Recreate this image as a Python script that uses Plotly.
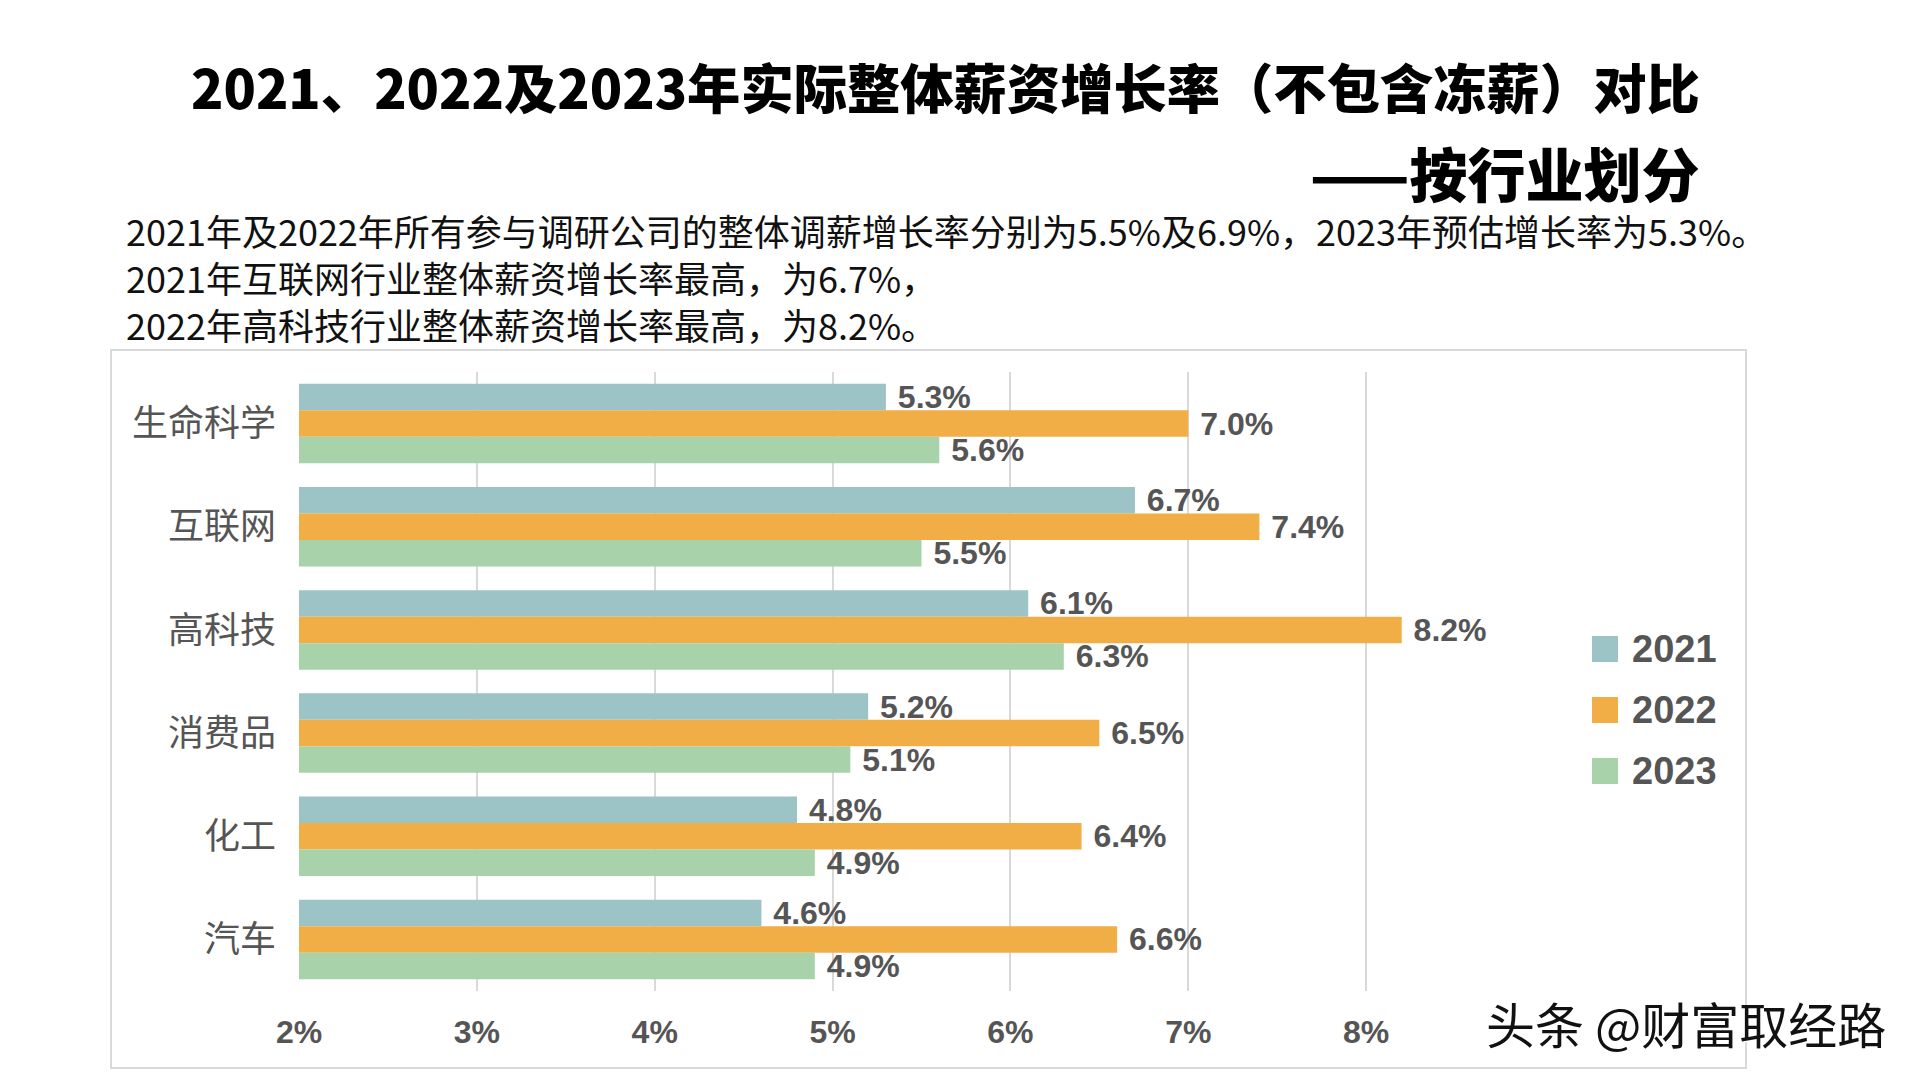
import plotly.graph_objects as go

# ---- data ----
categories = ["生命科学", "互联网", "高科技", "消费品", "化工", "汽车"]
series_names = ["2021", "2022", "2023"]
values_2021 = [5.3, 6.7, 6.1, 5.2, 4.8, 4.6]
values_2022 = [7.0, 7.4, 8.2, 6.5, 6.4, 6.6]
values_2023 = [5.6, 5.5, 6.3, 5.1, 4.9, 4.9]
x_ticks = [2, 3, 4, 5, 6, 7, 8, 9]
x_tick_labels = ["2%", "3%", "4%", "5%", "6%", "7%", "8%", ""]

title_line1 = "2021、2022及2023年实际整体薪资增长率（不包含冻薪）对比"
title_line2 = "——按行业划分"
note_lines = [
    "2021年及2022年所有参与调研公司的整体调薪增长率分别为5.5%及6.9%，2023年预估增长率为5.3%。",
    "2021年互联网行业整体薪资增长率最高，为6.7%，",
    "2022年高科技行业整体薪资增长率最高，为8.2%。",
]
watermark = "头条 @财富取经路"

colors = ["#9cc3c6", "#f1ae47", "#a8d2a9"]
series_values = [values_2021, values_2022, values_2023]

# ---- layout geometry (page pixels; page body has an 8px margin) ----
OFF = 8
W_FIG, H_FIG = 1920 - OFF, 1080 - OFF
L, R, T, B = 299 - OFF, 1544 - OFF, 372 - OFF, 991 - OFF
PW, PH = R - L, B - T


def px_x(x):
    return (x - OFF - L) / PW


def px_y(y):
    return (B - (y - OFF)) / PH


NUM_FONT = "Liberation Sans, Arial, Helvetica, sans-serif"
CJK_FONT = "Noto Sans CJK SC, Noto Sans, sans-serif"
GRAY = "#555555"

fig = go.Figure()
for name, vals, col in zip(series_names, series_values, colors):
    fig.add_trace(go.Bar(
        name=name,
        y=categories,
        x=vals,
        orientation="h",
        marker=dict(color=col, line=dict(width=0)),
        text=[f"{v:.1f}%" for v in vals],
        texttemplate=" %{text}",
        textposition="outside",
        constraintext="none",
        cliponaxis=False,
        textfont=dict(family=NUM_FONT, size=32, color=GRAY, weight="bold"),
        showlegend=False,
        hoverinfo="skip",
    ))

shapes = []
annotations = []

# chart frame
shapes.append(dict(type="rect", xref="paper", yref="paper",
                   x0=px_x(111), x1=px_x(1746), y0=px_y(1068), y1=px_y(350),
                   line=dict(color="#d9d9d9", width=2), fillcolor="rgba(0,0,0,0)",
                   layer="below"))

# custom legend
legend_y = [649, 710, 771]
for name, col, yc in zip(series_names, colors, legend_y):
    shapes.append(dict(type="rect", xref="paper", yref="paper",
                       x0=px_x(1592), x1=px_x(1618), y0=px_y(yc + 13), y1=px_y(yc - 13),
                       line=dict(width=0), fillcolor=col))
    annotations.append(dict(text=name, xref="paper", yref="paper",
                            x=px_x(1630), y=px_y(yc), xanchor="left", yanchor="middle",
                            showarrow=False,
                            font=dict(family=NUM_FONT, size=38, color=GRAY, weight="bold")))

# titles
annotations.append(dict(text=title_line1, xref="paper", yref="paper",
                        x=px_x(1702), y=px_y(85), xanchor="right", yanchor="middle",
                        showarrow=False,
                        font=dict(family=CJK_FONT, size=53.3, color="#000000", weight=900)))
annotations.append(dict(text=title_line2, xref="paper", yref="paper",
                        x=px_x(1702), y=px_y(172), xanchor="right", yanchor="middle",
                        showarrow=False,
                        font=dict(family=CJK_FONT, size=58, color="#000000", weight=900)))

# explanatory notes (one block)
annotations.append(dict(text="<br>".join(note_lines), xref="paper", yref="paper",
                        x=px_x(124), y=px_y(277), xanchor="left", yanchor="middle",
                        align="left", showarrow=False,
                        font=dict(family=CJK_FONT, size=36, color="#111111"),
                        height=140))

annotations.append(dict(text=watermark, xref="paper", yref="paper",
                        x=px_x(1686), y=px_y(1022), xanchor="center", yanchor="middle",
                        showarrow=False,
                        font=dict(family=CJK_FONT, size=49, color="#111111",
                                  shadow="1px 1px 1px #ffffff")))

fig.update_layout(
    width=W_FIG, height=H_FIG,
    margin=dict(l=L, r=W_FIG - R, t=T, b=H_FIG - B, pad=0),
    paper_bgcolor="white", plot_bgcolor="white",
    barmode="group", bargap=0.23, bargroupgap=0,
    shapes=shapes, annotations=annotations,
    showlegend=False,
    xaxis=dict(range=[2, 9], tickvals=x_ticks, ticktext=x_tick_labels,
               showgrid=True, gridcolor="#d9d9d9", gridwidth=1.5,
               zeroline=False, showline=False, ticks="",
               ticklabelstandoff=19,
               tickfont=dict(family=NUM_FONT, size=32, color=GRAY, weight="bold")),
    yaxis=dict(autorange="reversed", showgrid=False, zeroline=False, showline=False,
               ticks="", ticklabelstandoff=22,
               tickfont=dict(family=CJK_FONT, size=36, color=GRAY)),
)

fig.write_html("out.html")
